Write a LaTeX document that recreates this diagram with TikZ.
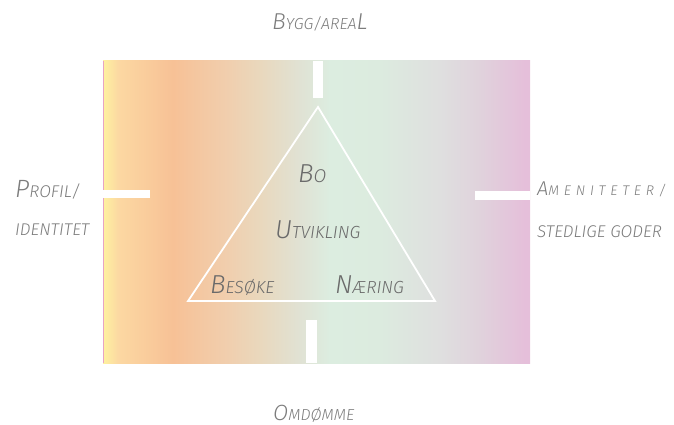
\documentclass[tikz,border=0pt]{standalone}
\usepackage{fontspec}
\setmainfont{Fira Sans}
\newfontfamily\thin{Fira Sans Light Italic}
\definecolor{c1}{HTML}{FEF0A0}
\definecolor{c2}{HTML}{FCD8A2}
\definecolor{c3}{HTML}{F7C196}
\definecolor{c4}{HTML}{F0CFAF}
\definecolor{c5}{HTML}{E9D8BD}
\definecolor{c6}{HTML}{E0E2D4}
\definecolor{c7}{HTML}{DCEDE0}
\definecolor{c8}{HTML}{DCEBDF}
\definecolor{c9}{HTML}{DFDFDF}
\definecolor{c10}{HTML}{E0D2DC}
\definecolor{c11}{HTML}{E5BFDA}
\definecolor{cPk}{HTML}{E8A4C4}
\definecolor{txo}{HTML}{7C7C7C}
\definecolor{txi}{HTML}{6A6A6A}
\pgfdeclarehorizontalshading{bgshade}{100bp}{color(0bp)=(c1); color(25.1bp)=(c1); color(26.8bp)=(c2); color(33.2bp)=(c3); color(39.9bp)=(c4); color(43.4bp)=(c5); color(48.1bp)=(c6); color(51.6bp)=(c7); color(57.4bp)=(c8); color(64.5bp)=(c9); color(69.1bp)=(c10); color(74.4bp)=(c11); color(100bp)=(c11)}
\newcommand\sct[4]{{\fontsize{#1}{#1}\selectfont #3}{\fontsize{#2}{#2}\selectfont #4}}
\tikzset{
  lbl/.style={inner sep=0pt, anchor=base west, text=txo, font=\thin},
  inlbl/.style={inner sep=0pt, anchor=base west, text=txi, font=\thin},
  bar/.style={fill=white, draw=none}
}
\begin{document}
\begin{tikzpicture}[x=1pt,y=-1pt]
\useasboundingbox (0,0) rectangle (674,425);
\shade[shading=bgshade] (103,61) rectangle (530,363);
\draw[cPk, line width=1.2pt] (103.6,61) -- (103.6,363);
% bars
\path[bar] (313,61) rectangle (323,98);
\path[bar] (103,190) rectangle (150,198);
\path[bar] (475,191) rectangle (530,200);
\path[bar] (306,320) rectangle (317,363);
% triangle
\coordinate (apex) at (318,107);
\coordinate (br) at (435,301);
\coordinate (bl) at (188,301);
\draw[white, line width=1.8pt, line join=miter] (apex) -- (br) -- (bl) -- cycle;
% outer labels
\node[lbl] (bygg) at (272,30) {\sct{23}{16}{B}{YGG/AREA}{\fontsize{23}{23}\selectfont L}};
\node[lbl] (profil) at (15,197) {\sct{25}{17}{P}{ROFIL/}};
\node[lbl] (ident) at (15,235) {\fontsize{17}{17}\selectfont IDENTITET};
\node[lbl] (amen) at (537,195) {\addfontfeature{LetterSpace=34}\sct{20}{14}{A}{MENITETER/}};
\node[lbl] (sted) at (537,237) {\fontsize{17}{17}\selectfont STEDLIGE GODER};
\node[lbl] (omd) at (273,420) {\sct{22}{16}{O}{MDØMME}};
% inner labels
\node[inlbl] (bo) at (298,182) {\sct{26}{18.5}{B}{O}};
\node[inlbl] (utv) at (275,238) {\sct{26}{17.5}{U}{TVIKLING}};
\node[inlbl] (bes) at (210,293) {\sct{26}{17.5}{B}{ESØKE}};
\node[inlbl] (naer) at (335,293) {\sct{26}{17.5}{N}{ÆRING}};
\end{tikzpicture}
\end{document}
